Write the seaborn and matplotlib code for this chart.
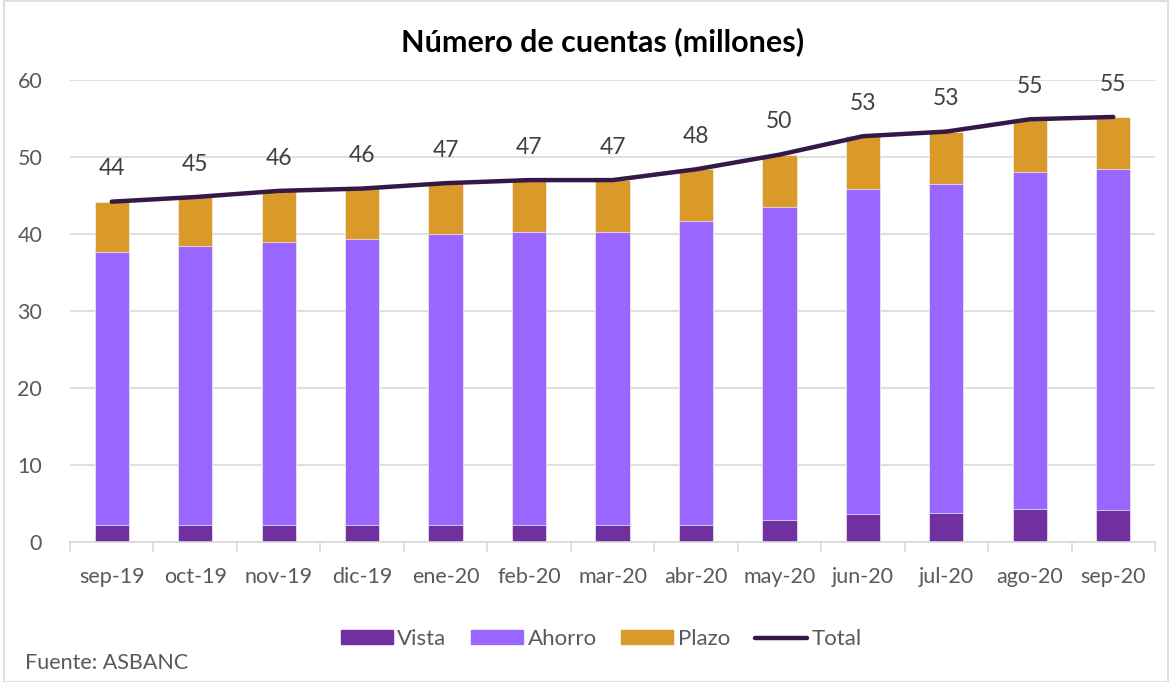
import numpy as np
import pandas as pd
import matplotlib
matplotlib.use("Agg")
import matplotlib.pyplot as plt
from matplotlib.patches import Patch, Rectangle
from matplotlib.lines import Line2D
import seaborn as sns

# Data (millions of accounts)
meses = ["sep-19", "oct-19", "nov-19", "dic-19", "ene-20", "feb-20", "mar-20",
         "abr-20", "may-20", "jun-20", "jul-20", "ago-20", "sep-20"]
vista = [2.25, 2.25, 2.25, 2.25, 2.25, 2.25, 2.25, 2.25, 2.85, 3.7, 3.8, 4.25, 4.2]
ahorro = [35.45, 36.15, 36.65, 37.15, 37.75, 38.05, 38.05, 39.45, 40.65, 42.1, 42.7, 43.85, 44.3]
plazo = [6.5, 6.4, 6.7, 6.5, 6.6, 6.7, 6.7, 6.7, 6.8, 6.9, 6.8, 6.8, 6.7]

COL_VISTA = "#7030A0"
COL_AHORRO = "#9966FF"
COL_PLAZO = "#DA9A2A"
COL_TOTAL = "#341848"
TXT = "#595959"

df = pd.DataFrame({"mes": meses, "Vista": vista, "Ahorro": ahorro, "Plazo": plazo})
df["cum_ahorro"] = df["Vista"] + df["Ahorro"]
df["Total"] = df["cum_ahorro"] + df["Plazo"]
df["pos"] = np.arange(len(df))

sns.set_theme(style="white")
plt.rcParams["font.family"] = ["Lato", "DejaVu Sans"]

fig = plt.figure(figsize=(11.74, 6.82), dpi=100)
ax = fig.add_axes([70 / 1174, 140 / 682, 1085 / 1174, 462 / 682])

# stacked bars: draw cumulative heights back to front
w = 0.41
for col, color in [("Total", COL_PLAZO), ("cum_ahorro", COL_AHORRO), ("Vista", COL_VISTA)]:
    sns.barplot(data=df, x="mes", y=col, color=color, width=w, ax=ax,
                edgecolor="#f2f2f2", linewidth=0.5, saturation=1)

sns.lineplot(data=df, x="pos", y="Total", color=COL_TOTAL, linewidth=3.2, ax=ax,
             solid_capstyle="round")

for p, t in zip(df["pos"], df["Total"]):
    ax.annotate(f"{round(t)}", (p, t), xytext=(0, 16), textcoords="offset points",
                ha="center", va="bottom", fontsize=16.5, color="#404040")

ax.set_ylim(0, 60)
ax.set_xlim(-0.5, len(meses) - 0.5)
ax.set_yticks(range(0, 61, 10))
ax.yaxis.grid(True, color="#D9D9D9", linewidth=1.2)
ax.set_axisbelow(True)
ax.set_xlabel("")
ax.set_ylabel("")
ax.tick_params(axis="x", which="major", length=0, pad=18, labelsize=15.5, labelcolor=TXT)
ax.tick_params(axis="y", length=0, pad=20, labelsize=15.5, labelcolor=TXT)
ax.set_xticks(np.arange(-0.5, len(meses), 1.0), minor=True)
ax.tick_params(axis="x", which="minor", length=7, width=1.2, color="#D9D9D9", direction="out", bottom=True)
for s in ["left", "right", "top"]:
    ax.spines[s].set_visible(False)
ax.spines["bottom"].set_color("#D9D9D9")
ax.spines["bottom"].set_linewidth(1.2)

fig.text(603 / 1174, 1 - 42 / 682, "Número de cuentas (millones)", ha="center", va="center",
         fontsize=22, fontweight="bold", color="black")

handles = [Patch(color=COL_VISTA), Patch(color=COL_AHORRO), Patch(color=COL_PLAZO),
           Line2D([0], [0], color=COL_TOTAL, linewidth=3.2, solid_capstyle="round")]
fig.legend(handles, ["Vista", "Ahorro", "Plazo", "Total"], loc="center",
           bbox_to_anchor=(601 / 1174, 1 - 639 / 682), ncol=4, frameon=False,
           fontsize=16, labelcolor=TXT, handlelength=2.35, handleheight=0.6,
           handletextpad=0.2, columnspacing=1.1)

fig.text(25 / 1174, 1 - 663 / 682, "Fuente: ASBANC", ha="left", va="center",
         fontsize=15.5, color=TXT)

fig.patches.append(Rectangle((4 / 1174, 0), 1164 / 1174, 0.998, transform=fig.transFigure,
                             fill=False, edgecolor="#D9D9D9", linewidth=1.2))

fig.savefig("out.png", dpi=100)
